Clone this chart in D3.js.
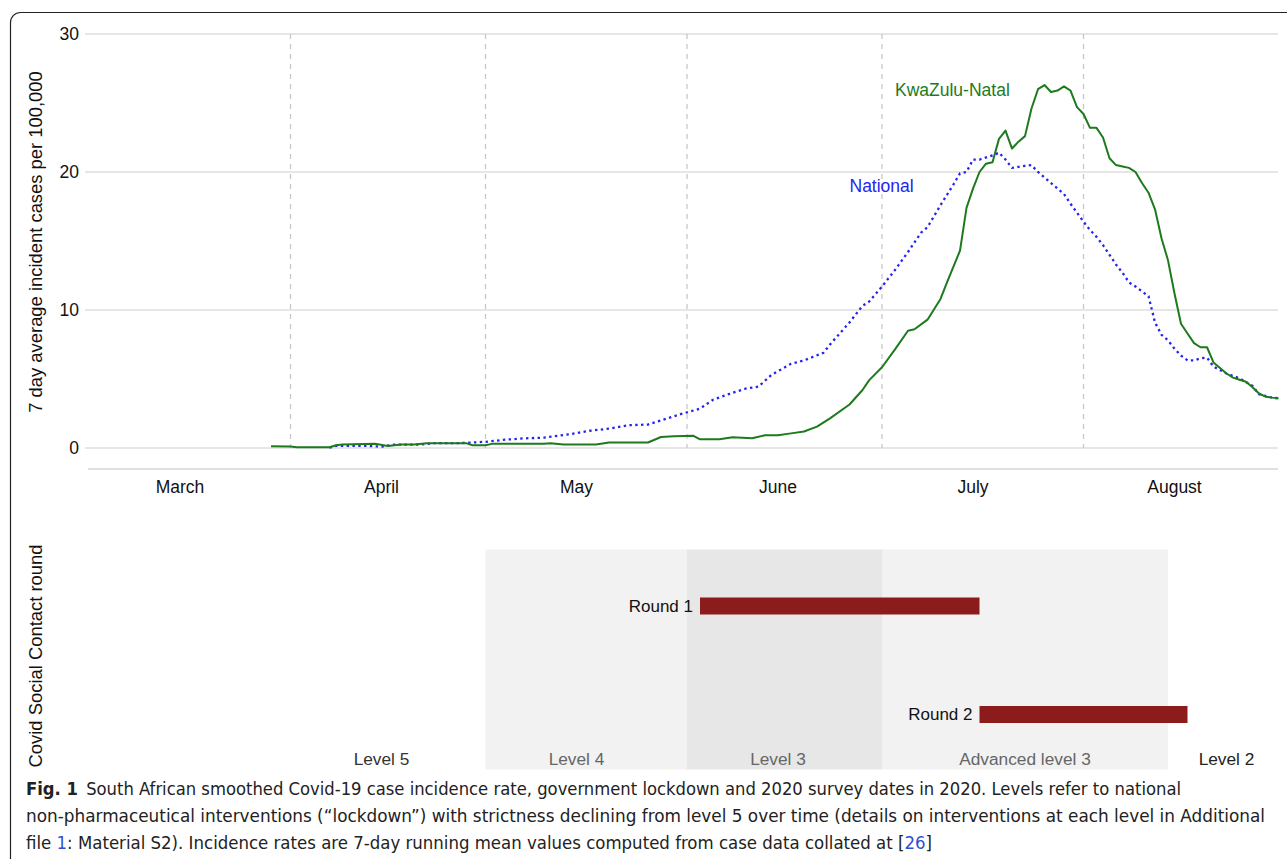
<!DOCTYPE html>
<html><head><meta charset="utf-8">
<script src="https://cdn.jsdelivr.net/npm/d3@7/dist/d3.min.js"></script>
<style>
body{margin:0;background:#fff;}
svg{display:block;font-family:"Liberation Sans",Arial,Helvetica,sans-serif;}
</style>
</head><body>
<svg id="chart" width="1287" height="859"></svg>
<script>
// ---------------- data ----------------
const kznDates = ["2020-03-29","2020-04-01","2020-04-02","2020-04-07","2020-04-08","2020-04-09","2020-04-14","2020-04-16","2020-04-18","2020-04-20","2020-04-22","2020-04-28","2020-04-29","2020-05-01","2020-05-02","2020-05-10","2020-05-11","2020-05-13","2020-05-18","2020-05-20","2020-05-26","2020-05-28","2020-05-30","2020-06-02","2020-06-03","2020-06-06","2020-06-08","2020-06-11","2020-06-13","2020-06-15","2020-06-17","2020-06-19","2020-06-21","2020-06-23","2020-06-26","2020-06-28","2020-06-29","2020-07-01","2020-07-03","2020-07-05","2020-07-06","2020-07-08","2020-07-10","2020-07-11","2020-07-13","2020-07-14","2020-07-15","2020-07-16","2020-07-17","2020-07-18","2020-07-19","2020-07-20","2020-07-21","2020-07-22","2020-07-23","2020-07-24","2020-07-25","2020-07-26","2020-07-27","2020-07-28","2020-07-29","2020-07-30","2020-07-31","2020-08-01","2020-08-02","2020-08-03","2020-08-04","2020-08-05","2020-08-06","2020-08-07","2020-08-08","2020-08-09","2020-08-10","2020-08-11","2020-08-12","2020-08-13","2020-08-14","2020-08-15","2020-08-16","2020-08-17","2020-08-18","2020-08-19","2020-08-20","2020-08-21","2020-08-22","2020-08-23","2020-08-24","2020-08-25","2020-08-26","2020-08-27","2020-08-28","2020-08-29","2020-08-30","2020-08-31"];
const kznValues = [0.12,0.1,0.06,0.06,0.2,0.25,0.3,0.15,0.25,0.25,0.35,0.35,0.2,0.2,0.3,0.3,0.35,0.25,0.25,0.4,0.4,0.8,0.85,0.88,0.63,0.63,0.78,0.7,0.92,0.93,1.06,1.2,1.55,2.15,3.15,4.2,4.9,5.85,7.15,8.5,8.6,9.3,10.8,12.0,14.3,17.4,18.8,20.0,20.6,20.7,22.4,23.0,21.7,22.2,22.6,24.6,26.0,26.3,25.8,25.9,26.2,25.9,24.7,24.2,23.2,23.2,22.5,21.0,20.5,20.4,20.3,20.0,19.2,18.5,17.3,15.2,13.6,11.2,9.0,8.3,7.6,7.3,7.3,6.2,5.8,5.4,5.1,4.95,4.8,4.4,3.95,3.72,3.65,3.6];

const natDates = ["2020-04-07","2020-04-08","2020-04-13","2020-04-15","2020-04-17","2020-04-21","2020-04-23","2020-04-27","2020-04-29","2020-05-01","2020-05-04","2020-05-07","2020-05-10","2020-05-14","2020-05-17","2020-05-20","2020-05-23","2020-05-26","2020-05-28","2020-05-31","2020-06-03","2020-06-05","2020-06-08","2020-06-10","2020-06-12","2020-06-14","2020-06-17","2020-06-19","2020-06-22","2020-06-23","2020-06-26","2020-06-28","2020-06-29","2020-07-01","2020-07-03","2020-07-05","2020-07-07","2020-07-08","2020-07-10","2020-07-12","2020-07-13","2020-07-14","2020-07-15","2020-07-16","2020-07-18","2020-07-19","2020-07-20","2020-07-21","2020-07-23","2020-07-24","2020-07-25","2020-07-27","2020-07-29","2020-07-30","2020-08-01","2020-08-02","2020-08-03","2020-08-04","2020-08-06","2020-08-07","2020-08-08","2020-08-09","2020-08-11","2020-08-12","2020-08-13","2020-08-14","2020-08-15","2020-08-16","2020-08-17","2020-08-18","2020-08-19","2020-08-20","2020-08-21","2020-08-23","2020-08-25","2020-08-27","2020-08-28","2020-08-30","2020-08-31"];
const natValues = [0.02,0.15,0.15,0.1,0.25,0.25,0.35,0.35,0.4,0.45,0.6,0.7,0.75,1.0,1.25,1.4,1.65,1.7,2.0,2.45,2.85,3.5,4.0,4.3,4.45,5.3,6.1,6.35,6.9,7.5,9.1,10.3,10.6,11.7,12.9,14.2,15.6,16.0,17.6,19.1,19.9,20.0,20.9,20.9,21.2,21.4,20.9,20.3,20.45,20.5,20.0,19.2,18.4,17.7,16.4,15.8,15.3,14.7,13.3,12.7,12.0,11.7,11.0,9.1,8.2,7.8,7.2,6.7,6.35,6.35,6.5,6.55,5.9,5.4,5.05,4.5,3.9,3.65,3.6];

const yTicks = [0, 10, 20, 30];
const monthNames = ["March","April","May","June","July","August"];
const monthLabelDates = ["2020-03-15","2020-04-15","2020-05-15","2020-06-15","2020-07-15","2020-08-15"];
const monthStartDates = ["2020-04-01","2020-05-01","2020-06-01","2020-07-01","2020-08-01"];

const levelNames = ["Level 5","Level 4","Level 3","Advanced level 3","Level 2"];
const levelStarts = ["2020-03-27","2020-05-01","2020-06-01","2020-07-01","2020-08-14"];
const levelEnds   = ["2020-05-01","2020-06-01","2020-07-01","2020-08-14","2020-08-31"];
const levelLabelDates = ["2020-04-15","2020-05-15","2020-06-15","2020-07-23","2020-08-23"];

const roundNames = ["Round 1","Round 2"];
const roundStarts = ["2020-06-03","2020-07-16"];
const roundEnds = ["2020-07-16","2020-08-17"];

const seriesNames = ["KwaZulu-Natal","National"];

// ---------------- drawing ----------------
const parse = d3.timeParse("%Y-%m-%d");
const svg = d3.select("#chart");

// frame
svg.append("rect").attr("x",10.5).attr("y",12.5).attr("width",1400).attr("height",1000)
  .attr("rx",10).attr("fill","none").attr("stroke","#222").attr("stroke-width",1.2);

const x = d3.scaleTime().domain([parse("2020-03-01"), parse("2020-08-31")]).range([89, 1278.5]);
const y = d3.scaleLinear().domain([0, 30]).range([448, 34]);

// horizontal grid
svg.append("g").selectAll("line").data(yTicks).join("line")
  .attr("x1",85).attr("x2",1278).attr("y1",d=>y(d)).attr("y2",d=>y(d))
  .attr("stroke","#dedede").attr("stroke-width",1.3);
// y tick labels
svg.append("g").selectAll("text").data(yTicks).join("text")
  .attr("x",79).attr("y",d=>y(d)).attr("dy","0.35em").attr("text-anchor","end")
  .attr("font-size",17.5).attr("fill","#111").text(d=>d);

// vertical dashed month lines
svg.append("g").selectAll("line").data(monthStartDates).join("line")
  .attr("x1",d=>x(parse(d))).attr("x2",d=>x(parse(d)))
  .attr("y1",y(30)).attr("y2",y(0))
  .attr("stroke","#c8c8c8").attr("stroke-width",1.3).attr("stroke-dasharray","5,5");

// x axis line
svg.append("line").attr("x1",88).attr("x2",1278).attr("y1",469).attr("y2",469)
  .attr("stroke","#d6d6d6").attr("stroke-width",1.3);
// month labels
svg.append("g").selectAll("text").data(monthNames).join("text")
  .attr("x",(d,i)=>x(parse(monthLabelDates[i]))).attr("y",493)
  .attr("text-anchor","middle").attr("font-size",17.5).attr("fill","#111").text(d=>d);

// y axis title
svg.append("text").attr("transform","translate(42,242) rotate(-90)")
  .attr("text-anchor","middle").attr("font-size",18.4).attr("fill","#111")
  .text("7 day average incident cases per 100,000");

// lines
const line = d3.line().x(d=>x(d.date)).y(d=>y(d.v));
const kzn = kznDates.map((d,i)=>({date:parse(d), v:kznValues[i]}));
const nat = natDates.map((d,i)=>({date:parse(d), v:natValues[i]}));
svg.append("path").datum(nat).attr("d",line).attr("fill","none")
  .attr("stroke","#2424f0").attr("stroke-width",2.3).attr("stroke-dasharray","2.4,3.4");
svg.append("path").datum(kzn).attr("d",line).attr("fill","none")
  .attr("stroke","#1d7a1d").attr("stroke-width",2).attr("stroke-linejoin","round");

// series labels
svg.append("text").attr("x",x(parse("2020-07-03"))).attr("y",96).attr("font-size",17.5)
  .attr("fill","#1d7a1d").text(seriesNames[0]);
svg.append("text").attr("x",x(parse("2020-06-26"))).attr("y",192).attr("font-size",17.5)
  .attr("fill","#2424f0").text(seriesNames[1]);

// ---------------- lower panel ----------------
const bandFill = [null,"#f2f2f2","#e7e7e7","#f2f2f2",null];
const bandTop = 549.5, bandBottom = 769.5;
svg.append("g").selectAll("rect").data(levelNames).join("rect")
  .attr("x",(d,i)=>x(parse(levelStarts[i])))
  .attr("width",(d,i)=>x(parse(levelEnds[i]))-x(parse(levelStarts[i])))
  .attr("y",bandTop).attr("height",bandBottom-bandTop)
  .attr("fill",(d,i)=>bandFill[i]||"none");

const labelFill = ["#333","#666","#666","#666","#222"];
svg.append("g").selectAll("text").data(levelNames).join("text")
  .attr("x",(d,i)=>x(parse(levelLabelDates[i]))).attr("y",765)
  .attr("text-anchor","middle").attr("font-size",17.3)
  .attr("fill",(d,i)=>labelFill[i]).text(d=>d);

const yr = d3.scalePoint().domain(roundNames).range([606, 714.5]);
const barH = 17;
svg.append("g").selectAll("rect").data(roundNames).join("rect")
  .attr("x",(d,i)=>x(parse(roundStarts[i])))
  .attr("width",(d,i)=>x(parse(roundEnds[i]))-x(parse(roundStarts[i])))
  .attr("y",d=>yr(d)-barH/2).attr("height",barH)
  .attr("fill","#8c1b1c");
svg.append("g").selectAll("text").data(roundNames).join("text")
  .attr("x",(d,i)=>x(parse(roundStarts[i]))-7).attr("y",d=>yr(d)).attr("dy","0.35em")
  .attr("text-anchor","end").attr("font-size",17).attr("fill","#111").text(d=>d);

svg.append("text").attr("transform","translate(42,656) rotate(-90)")
  .attr("text-anchor","middle").attr("font-size",18.4).attr("fill","#111")
  .text("Covid Social Contact round");

// ---------------- caption ----------------
const cap = svg.append("g").attr("font-family","'Liberation Sans Narrow','DejaVu Sans Condensed','Liberation Sans',sans-serif")
  .attr("font-size",18).attr("fill","#222");
const l1 = cap.append("text").attr("x",26).attr("y",795).attr("textLength",1155).attr("lengthAdjust","spacingAndGlyphs");
l1.append("tspan").attr("font-weight","bold").text("Fig. 1");
l1.append("tspan").text("\u2002South African smoothed Covid-19 case incidence rate, government lockdown and 2020 survey dates in 2020. Levels refer to national");
cap.append("text").attr("x",26).attr("y",822).attr("textLength",1239).attr("lengthAdjust","spacingAndGlyphs")
  .text("non-pharmaceutical interventions (\u201clockdown\u201d) with strictness declining from level 5 over time (details on interventions at each level in Additional");
const l3 = cap.append("text").attr("x",26).attr("y",849).attr("textLength",906).attr("lengthAdjust","spacingAndGlyphs");
l3.append("tspan").text("file ");
l3.append("tspan").attr("fill","#2c4fd6").text("1");
l3.append("tspan").text(": Material S2). Incidence rates are 7-day running mean values computed from case data collated at [");
l3.append("tspan").attr("fill","#2c4fd6").text("26");
l3.append("tspan").text("]");
</script>
</body></html>
